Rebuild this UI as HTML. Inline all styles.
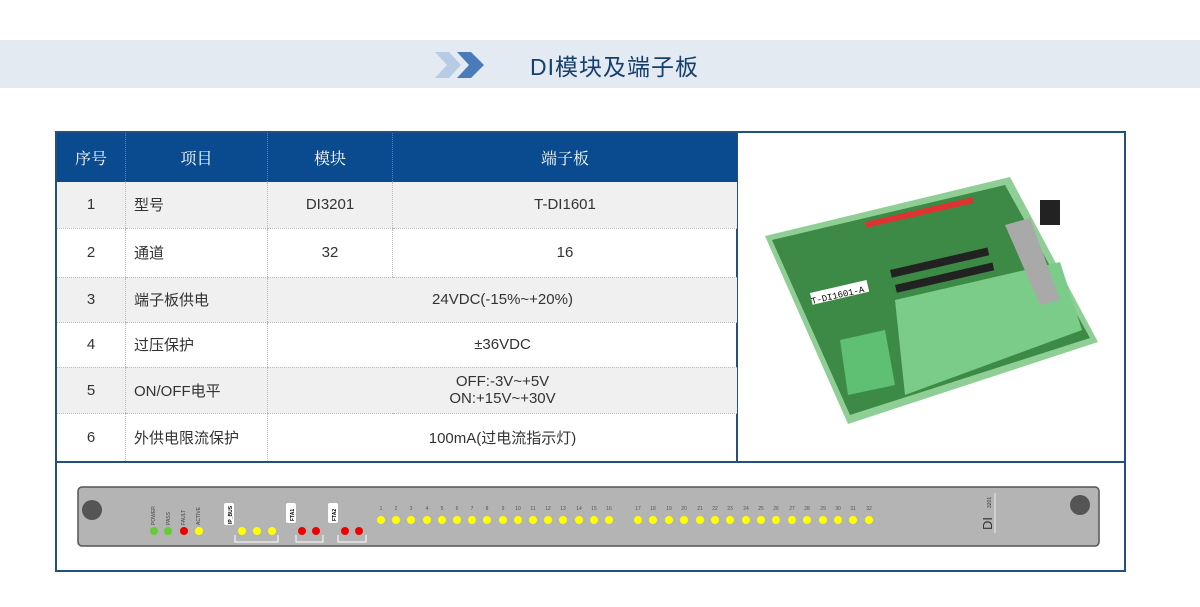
<!DOCTYPE html>
<html><head><meta charset="utf-8"><style>
body{margin:0;width:1200px;height:607px;background:#fff;overflow:hidden;font-family:"Liberation Sans","Noto Sans CJK SC",sans-serif;}
.band{position:absolute;left:0;top:40px;width:1200px;height:48px;background:#e4eaf2;}
.title{position:absolute;left:530px;top:48px;font-size:23px;color:#153f6e;letter-spacing:1px;}
.frame{position:absolute;left:55px;top:131px;width:1067px;height:437px;border:2px solid #24507e;}
table{position:absolute;left:57px;top:133px;width:680px;border-collapse:collapse;font-size:15px;color:#333;}
td,th{border-left:1px dotted #bbb;border-bottom:1px dotted #bbb;text-align:center;padding:0;}
th{background:#0a4a8e;color:#fff;font-weight:normal;font-size:16px;height:49px;border-bottom:none;font-family:"Liberation Serif","Noto Serif CJK SC",serif;border-left:1px dotted #5a7fb0;}
tr td:first-child,tr th:first-child{border-left:none;}
tr.g td{background:#f0f0f0;}
td.l{text-align:left;padding-left:8px;}
</style></head><body>
<div class="band"></div>
<svg style="position:absolute;left:433px;top:50px" width="55" height="30">
<polygon points="2,2 16,2 28,15 16,28 2,28 14,15" fill="#b7cbe4"/>
<polygon points="24,2 38,2 51,15 38,28 24,28 36,15" fill="#4a7cbc"/>
</svg>
<div class="title">DI模块及端子板</div>
<div class="frame"></div>
<div style="position:absolute;left:736px;top:133px;width:2px;height:330px;background:#24507e"></div>
<div style="position:absolute;left:57px;top:461px;width:1067px;height:2px;background:#24507e"></div>
<table>
<tr><th style="width:68px">序号</th><th style="width:141px">项目</th><th style="width:124px">模块</th><th>端子板</th></tr>
<tr class="g" style="height:46px"><td>1</td><td class="l">型号</td><td>DI3201</td><td>T-DI1601</td></tr>
<tr style="height:49px"><td>2</td><td class="l">通道</td><td>32</td><td>16</td></tr>
<tr class="g" style="height:45px"><td>3</td><td class="l">端子板供电</td><td colspan="2">24VDC(-15%~+20%)</td></tr>
<tr style="height:45px"><td>4</td><td class="l">过压保护</td><td colspan="2">±36VDC</td></tr>
<tr class="g" style="height:46px"><td>5</td><td class="l">ON/OFF电平</td><td colspan="2" style="line-height:17px">OFF:-3V~+5V<br>ON:+15V~+30V</td></tr>
<tr style="height:48px"><td style="border-bottom:none">6</td><td class="l" style="border-bottom:none">外供电限流保护</td><td colspan="2" style="border-bottom:none">100mA(过电流指示灯)</td></tr>
</table>
<svg style="position:absolute;left:0;top:0" width="1200" height="607">
<!-- board -->
<polygon points="765,236 1010,177 1098,342 848,424" fill="#8fcf96"/>
<polygon points="772,240 1005,185 1090,338 850,415" fill="#3c8a45"/>
<polygon points="895,300 1060,262 1082,330 905,395" fill="#7bcc89"/>
<polygon points="840,340 885,330 895,385 848,395" fill="#5fbf73"/>
<rect x="1040" y="200" width="20" height="25" fill="#222"/>
<polygon points="1005,225 1030,218 1060,300 1040,305" fill="#a9a9a9"/>
<g fill="#d33">
<rect x="865" y="222" width="110" height="6" transform="rotate(-13 865 222)"/></g>
<g fill="#222"><rect x="890" y="270" width="100" height="8" transform="rotate(-13 890 270)"/><rect x="895" y="285" width="100" height="8" transform="rotate(-13 895 285)"/></g>
<rect x="810" y="293" width="58" height="12" fill="#fff" transform="rotate(-13 810 293)"/>
<text x="812" y="304" font-size="9" font-family="Liberation Mono" transform="rotate(-13 812 304)">T-DI1601-A</text>
<!-- panel -->
<rect x="78" y="487" width="1021" height="59" rx="4" fill="#b4b4b4" stroke="#555" stroke-width="1.5"/>
<circle cx="92" cy="510" r="10" fill="#555"/>
<circle cx="1080" cy="505" r="10" fill="#555"/>
<g font-size="5" fill="#444" font-family="Liberation Sans">
<text transform="translate(155,525) rotate(-90)">POWER</text>
<text transform="translate(170,525) rotate(-90)">PASS</text>
<text transform="translate(185,525) rotate(-90)">FAULT</text>
<text transform="translate(200,525) rotate(-90)">ACTIVE</text>
</g>
<g fill="#fff"><rect x="224" y="503" width="10" height="22" rx="2"/><rect x="286" y="503" width="10" height="20" rx="2"/><rect x="328" y="503" width="10" height="20" rx="2"/></g>
<g font-size="5" fill="#000" font-weight="bold"><text transform="translate(232,524) rotate(-90)">IP_BUS</text><text transform="translate(294,521) rotate(-90)">FTA1</text><text transform="translate(336,521) rotate(-90)">FTA2</text></g>
<g fill="none" stroke="#fff" stroke-width="1"><path d="M235,535 V542 H278 V535"/><path d="M296,535 V542 H323 V535"/><path d="M338,535 V542 H366 V535"/></g>
<circle cx="154" cy="531" r="4" fill="#6c3"/><circle cx="168" cy="531" r="4" fill="#6c3"/>
<circle cx="184" cy="531" r="4" fill="#e00"/><circle cx="199" cy="531" r="4" fill="#ff0"/>
<circle cx="242" cy="531" r="4" fill="#ff0"/><circle cx="257" cy="531" r="4" fill="#ff0"/><circle cx="272" cy="531" r="4" fill="#ff0"/>
<circle cx="302" cy="531" r="4" fill="#e00"/><circle cx="316" cy="531" r="4" fill="#e00"/>
<circle cx="345" cy="531" r="4" fill="#e00"/><circle cx="359" cy="531" r="4" fill="#e00"/>
<g fill="#ff0">
<circle cx="381" cy="520" r="4"/><circle cx="396" cy="520" r="4"/><circle cx="411" cy="520" r="4"/><circle cx="427" cy="520" r="4"/><circle cx="442" cy="520" r="4"/><circle cx="457" cy="520" r="4"/><circle cx="472" cy="520" r="4"/><circle cx="487" cy="520" r="4"/><circle cx="503" cy="520" r="4"/><circle cx="518" cy="520" r="4"/><circle cx="533" cy="520" r="4"/><circle cx="548" cy="520" r="4"/><circle cx="563" cy="520" r="4"/><circle cx="579" cy="520" r="4"/><circle cx="594" cy="520" r="4"/><circle cx="609" cy="520" r="4"/>
<circle cx="638" cy="520" r="4"/><circle cx="653" cy="520" r="4"/><circle cx="669" cy="520" r="4"/><circle cx="684" cy="520" r="4"/><circle cx="700" cy="520" r="4"/><circle cx="715" cy="520" r="4"/><circle cx="730" cy="520" r="4"/><circle cx="746" cy="520" r="4"/><circle cx="761" cy="520" r="4"/><circle cx="776" cy="520" r="4"/><circle cx="792" cy="520" r="4"/><circle cx="807" cy="520" r="4"/><circle cx="823" cy="520" r="4"/><circle cx="838" cy="520" r="4"/><circle cx="853" cy="520" r="4"/><circle cx="869" cy="520" r="4"/>
</g>
<g font-size="5" fill="#555" text-anchor="middle">
<text x="381" y="510">1</text><text x="396" y="510">2</text><text x="411" y="510">3</text><text x="427" y="510">4</text><text x="442" y="510">5</text><text x="457" y="510">6</text><text x="472" y="510">7</text><text x="487" y="510">8</text><text x="503" y="510">9</text><text x="518" y="510">10</text><text x="533" y="510">11</text><text x="548" y="510">12</text><text x="563" y="510">13</text><text x="579" y="510">14</text><text x="594" y="510">15</text><text x="609" y="510">16</text>
<text x="638" y="510">17</text><text x="653" y="510">18</text><text x="669" y="510">19</text><text x="684" y="510">20</text><text x="700" y="510">21</text><text x="715" y="510">22</text><text x="730" y="510">23</text><text x="746" y="510">24</text><text x="761" y="510">25</text><text x="776" y="510">26</text><text x="792" y="510">27</text><text x="807" y="510">28</text><text x="823" y="510">29</text><text x="838" y="510">30</text><text x="853" y="510">31</text><text x="869" y="510">32</text>
</g>
<line x1="995" y1="493" x2="995" y2="533" stroke="#eee" stroke-width="1"/>
<text transform="translate(992,530) rotate(-90)" font-size="13" fill="#333">DI</text>
<text transform="translate(991,508) rotate(-90)" font-size="5" fill="#333">3201</text>
</svg>
</body></html>
